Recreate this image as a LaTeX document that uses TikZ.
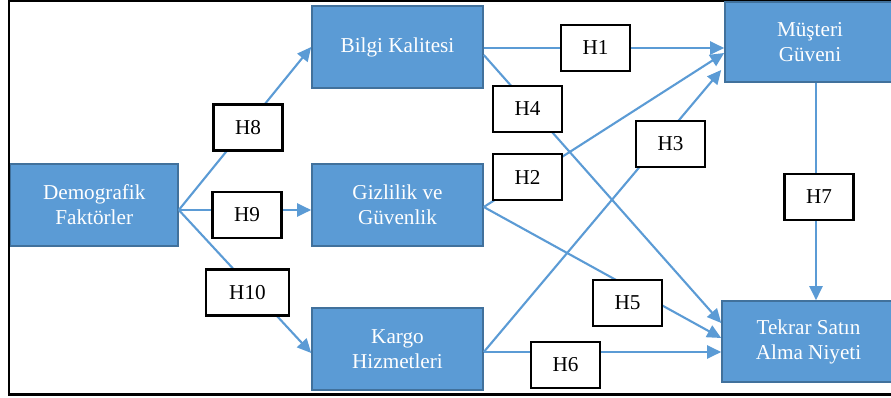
\documentclass[tikz,border=0pt]{standalone}
\usepackage{fontspec}
\setmainfont{Liberation Serif}
\usetikzlibrary{arrows.meta}
\definecolor{boxfill}{HTML}{5B9BD5}
\definecolor{boxline}{HTML}{41719C}
\definecolor{linkblue}{HTML}{5B9BD5}
\tikzset{
  varbox/.style={draw=boxline, line width=1.6pt, fill=boxfill, text=white,
    align=center, inner sep=0pt, minimum height=82pt,
    font=\fontsize{21.2}{25}\selectfont},
  hyp/.style={draw=black, line width=2.2pt, fill=white, text=black,
    inner sep=0pt, minimum width=69pt, minimum height=46pt,
    font=\fontsize{21.2}{25}\selectfont},
  link/.style={draw=linkblue, line width=2.1pt,
    -{Triangle[length=14pt,width=13pt]}},
  frame/.style={draw=black, line width=2.5pt}
}
\begin{document}
\begin{tikzpicture}[x=1pt,y=-1pt]
\useasboundingbox (0,0) rectangle (891,398);
\clip (0,0) rectangle (891,398);
\fill[white] (0,0) rectangle (891,398);

% outer frame
\draw[frame] (905,1.2) -- (9,1.2) -- (9,394.5) -- (905,394.5);

% variables
\node[varbox, minimum width=167.5pt] (demo)   at (94.25,205) {Demografik\\Faktörler};
\node[varbox, minimum width=171pt]   (bilgi)  at (397.5,47)  {Bilgi Kalitesi};
\node[varbox, minimum width=171pt]   (gizl)   at (397.5,205) {Gizlilik ve\\Güvenlik};
\node[varbox, minimum width=171pt]   (kargo)  at (397.5,349) {Kargo\\Hizmetleri};
\node[varbox, minimum width=170pt, minimum height=80pt] (muster) at (810,42) {Müşteri\\Güveni};
\node[varbox, minimum width=173pt, minimum height=81pt] (tekrar) at (808.5,341.5) {Tekrar Satın\\Alma Niyeti};

% start points on the box edges
\coordinate (d0) at ([yshift=-5pt]demo.east);
\coordinate (b0) at ([yshift=-1pt]bilgi.east);
\coordinate (b1) at ([yshift=-8pt]bilgi.east);
\coordinate (g0) at ([yshift=-2pt]gizl.east);
\coordinate (k0) at ([yshift=-3pt]kargo.east);
\coordinate (m0) at ([xshift=6pt]muster.south);

% hypothesised paths
\draw[link] (d0) -- (bilgi.west);
\draw[link] (d0) -- (d0 -| gizl.west);
\draw[link] (d0) -- ([yshift=-4pt]kargo.west);
\draw[link] (b0) -- (b0 -| muster.west);
\draw[link] (b1) -- ([yshift=18.5pt]tekrar.west);
\draw[link] (g0) -- ([yshift=-11pt]muster.west);
\draw[link] (g0) -- ([yshift=3.5pt]tekrar.west);
\draw[link] (k0) -- ([xshift=-3pt,yshift=-28pt]muster.west);
\draw[link] (k0) -- (k0 -| tekrar.west);
\draw[link] (m0) -- (m0 |- tekrar.north);

% hypothesis labels
\node[hyp] (h8)  at (248,127.5) {H8};
\node[hyp] (h9)  at (247,215)   {H9};
\node[hyp, minimum width=83pt] (h10) at (247.5,292.5) {H10};
\node[hyp] (h4)  at (527.5,109) {H4};
\node[hyp] (h2)  at (527.5,177) {H2};
\node[hyp] (h1)  at (595.5,48)  {H1};
\node[hyp] (h3)  at (670.5,144) {H3};
\node[hyp] (h7)  at (819,197)   {H7};
\node[hyp] (h5)  at (627.5,303) {H5};
\node[hyp] (h6)  at (565.5,365) {H6};
\end{tikzpicture}
\end{document}
